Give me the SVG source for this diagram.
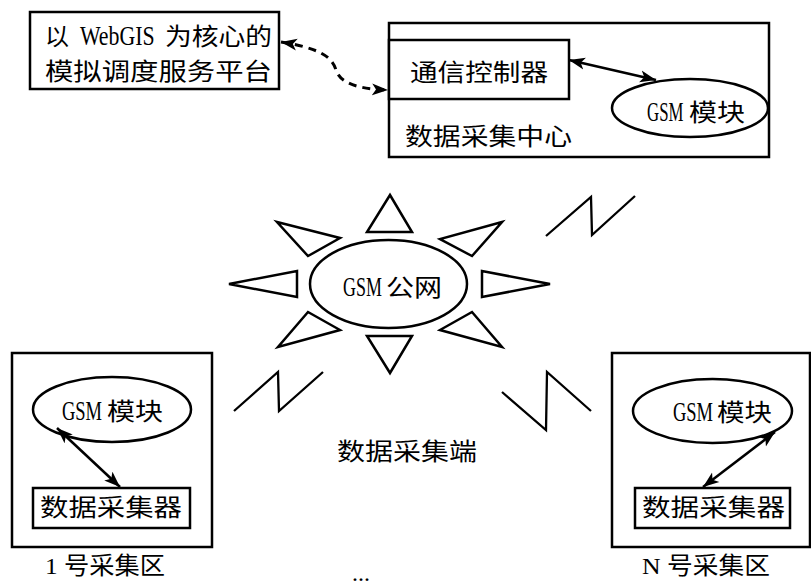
<svg xmlns="http://www.w3.org/2000/svg" width="811" height="587" viewBox="0 0 811 587">
<style>
.box{fill:#fff;stroke:#000;stroke-width:2.5}
.ell{fill:#fff;stroke:#000;stroke-width:2.5}
.tri{fill:#fff;stroke:#000;stroke-width:2.5;stroke-linejoin:miter}
.bolt{fill:none;stroke:#000;stroke-width:2.3}
.t{font-family:"Liberation Serif","Noto Sans CJK SC",serif;font-size:24px;fill:#000}
.g{font-size:28px}
.arr{fill:none;stroke:#000;stroke-width:2.5}
.dash{fill:none;stroke:#000;stroke-width:3;stroke-dasharray:8 6}
</style>
<defs>
<marker id="ah" markerUnits="userSpaceOnUse" markerWidth="17" markerHeight="13" refX="16" refY="6" orient="auto-start-reverse" viewBox="0 0 17 12">
<path d="M0,0 L16,6 L0,12 L4,6 z" fill="#000"/>
</marker>
</defs>
<rect width="811" height="587" fill="#fff"/>

<g id="platform">
<rect class="box" x="30" y="12" width="249" height="77"/>
<text class="t" x="45" y="45">以</text>
<text class="t g" transform="translate(80,45) scale(0.78,1)">WebGIS</text>
<text class="t" x="165" y="45" textLength="107" lengthAdjust="spacingAndGlyphs">为核心的</text>
<text class="t" x="45" y="80" textLength="227" lengthAdjust="spacingAndGlyphs">模拟调度服务平台</text>
</g>

<g id="center">
<rect class="box" x="389" y="23" width="380" height="134"/>
<text class="t" x="405" y="145" textLength="167" lengthAdjust="spacingAndGlyphs">数据采集中心</text>
</g>
<g id="controller">
<rect class="box" x="389" y="40" width="180" height="59"/>
<text class="t" x="410" y="81" textLength="138" lengthAdjust="spacingAndGlyphs">通信控制器</text>
</g>
<g id="gsm-center">
<ellipse class="ell" cx="690" cy="108" rx="78" ry="29"/>
<text class="t g" transform="translate(647,121) scale(0.6,1)">GSM</text>
<text class="t" x="689" y="121" font-size="26" textLength="56" lengthAdjust="spacingAndGlyphs">模块</text>
</g>

<g id="gsm-net">
<polygon class="tri" points="390,195 412,232 367,232"/>
<polygon class="tri" points="367,336 412,336 390,373"/>
<polygon class="tri" points="229,284 297,271 297,297"/>
<polygon class="tri" points="482,271 482,297 550,284"/>
<polygon class="tri" points="277,222 340,238 308,256"/>
<polygon class="tri" points="502,222 440,239 472,256"/>
<polygon class="tri" points="308,312 340,330 278,347"/>
<polygon class="tri" points="472,312 440,330 502,347"/>
<ellipse class="ell" cx="388.5" cy="284" rx="78.5" ry="44"/>
<text class="t g" transform="translate(343,296) scale(0.64,1)">GSM</text>
<text class="t" x="386" y="296" font-size="26" textLength="56" lengthAdjust="spacingAndGlyphs">公网</text>
</g>

<g id="area1">
<rect class="box" x="12" y="353" width="200" height="194"/>
<text class="t" x="45" y="574" textLength="120" lengthAdjust="spacingAndGlyphs">1 号采集区</text>
</g>
<g id="gsm-1">
<ellipse class="ell" cx="112" cy="409.5" rx="79" ry="32.5"/>
<text class="t g" transform="translate(62,420) scale(0.66,1)">GSM</text>
<text class="t" x="107" y="420" font-size="26" textLength="56" lengthAdjust="spacingAndGlyphs">模块</text>
</g>
<g id="collector-1">
<rect class="box" x="33" y="488" width="157" height="40"/>
<text class="t" x="40" y="516" textLength="142" lengthAdjust="spacingAndGlyphs">数据采集器</text>
</g>

<g id="areaN">
<rect class="box" x="612" y="353" width="198" height="194"/>
<text class="t" x="642" y="574" textLength="128" lengthAdjust="spacingAndGlyphs">N 号采集区</text>
</g>
<g id="gsm-N">
<ellipse class="ell" cx="712.5" cy="411" rx="79.5" ry="32"/>
<text class="t g" transform="translate(673,421) scale(0.66,1)">GSM</text>
<text class="t" x="717" y="421" font-size="26" textLength="55" lengthAdjust="spacingAndGlyphs">模块</text>
</g>
<g id="collector-N">
<rect class="box" x="635" y="488" width="155" height="40"/>
<text class="t" x="642" y="516" textLength="143" lengthAdjust="spacingAndGlyphs">数据采集器</text>
</g>

<g id="labels">
<text class="t" x="337" y="460" textLength="140" lengthAdjust="spacingAndGlyphs">数据采集端</text>
<text class="t" x="352" y="581" font-size="18">...</text>
</g>

<g id="connectors">
<path class="dash" d="M281,42 C318,48 332,56 336,70 C341,85 362,89 388,90" marker-start="url(#ah)" marker-end="url(#ah)"/>
<line class="arr" x1="569" y1="60" x2="656" y2="80" marker-start="url(#ah)" marker-end="url(#ah)"/>
<line class="arr" x1="57" y1="428" x2="120" y2="487" marker-start="url(#ah)" marker-end="url(#ah)"/>
<line class="arr" x1="703" y1="487" x2="775" y2="432" marker-start="url(#ah)" marker-end="url(#ah)"/>
<polyline class="bolt" points="546,236 591,197 592,235 635,196"/>
<polyline class="bolt" points="234,411 278,372 279,411 323,372"/>
<polyline class="bolt" points="502,392 546,430 547,372 591,411"/>
</g>
</svg>
